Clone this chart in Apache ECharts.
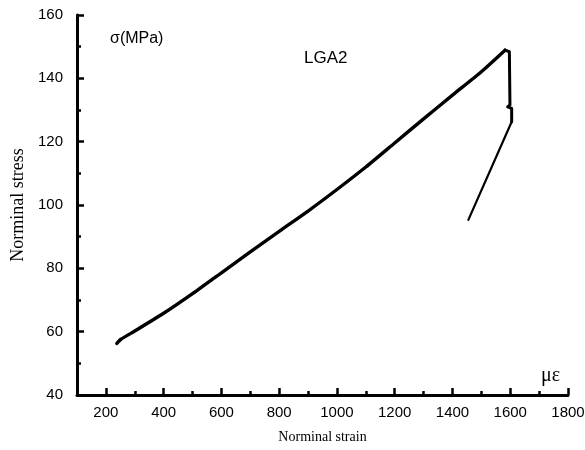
<!DOCTYPE html>
<html>
<head>
<meta charset="utf-8">
<script src="https://cdn.jsdelivr.net/npm/echarts@6/dist/echarts.min.js"></script>
<style>
  html, body { margin: 0; padding: 0; background: #fff; }
  #chart { width: 585px; height: 450px; }
</style>
</head>
<body>
<div id="chart"></div>
<script>
// Stress–strain record for specimen LGA2 (strain in µε, stress in MPa)
// Loading branch up to peak stress
const loadingStrain = [238, 252, 300, 400, 500, 600, 700, 800, 900, 1000, 1100, 1200, 1300, 1400, 1500, 1582];
const loadingStress = [56.3, 57.6, 60.2, 65.8, 72.0, 78.6, 85.2, 91.7, 98.1, 104.9, 112.0, 119.6, 127.2, 134.7, 142.1, 148.9];
// Post-peak drop
const dropStrain = [1582, 1597, 1599, 1591, 1605, 1605];
const dropStress = [148.9, 148.4, 131.6, 131.0, 130.5, 126.3];
// Unloading branch
const unloadingStrain = [1605, 1455];
const unloadingStress = [126.3, 95.3];

const majorStrainTicks = [200, 400, 600, 800, 1000, 1200, 1400, 1600, 1800];
const minorStrainTicks = [300, 500, 700, 900, 1100, 1300, 1500, 1700];

const pairs = (xs, ys) => xs.map((x, i) => [x, ys[i]]);

const chart = echarts.init(document.getElementById('chart'), null, { renderer: 'canvas' });

const sans = 'Liberation Sans, Arial, sans-serif';
const serif = 'Liberation Serif, Times New Roman, serif';
const plain = v => String(v);

chart.setOption({
  backgroundColor: '#ffffff',
  animation: false,
  grid: { left: 77, right: 17, top: 15, bottom: 55, containLabel: false, outerBoundsMode: 'none' },
  xAxis: [
    {
      type: 'value',
      min: 100,
      max: 1800,
      interval: 100,
      name: 'Norminal strain',
      nameLocation: 'middle',
      nameGap: 35,
      nameTextStyle: { fontFamily: serif, fontSize: 14, color: '#000' },
      axisLine: { show: true, onZero: false, lineStyle: { color: '#000', width: 3 } },
      axisTick: { show: true, inside: true, length: 7, customValues: majorStrainTicks, lineStyle: { color: '#000', width: 2.5 } },
      axisLabel: { show: true, margin: 10, customValues: majorStrainTicks, formatter: plain, fontFamily: sans, fontSize: 15, color: '#000' },
      splitLine: { show: false }
    },
    {
      type: 'value',
      position: 'bottom',
      min: 100,
      max: 1800,
      interval: 100,
      axisLine: { show: false },
      axisTick: { show: true, inside: true, length: 4, customValues: minorStrainTicks, lineStyle: { color: '#000', width: 2.5 } },
      axisLabel: { show: false },
      splitLine: { show: false }
    }
  ],
  yAxis: {
    type: 'value',
    min: 40,
    max: 160,
    interval: 20,
    name: 'Norminal stress',
    nameLocation: 'middle',
    nameGap: 49,
    nameTextStyle: { fontFamily: serif, fontSize: 18, color: '#000' },
    axisLine: { show: true, onZero: false, lineStyle: { color: '#000', width: 3 } },
    axisTick: { show: true, inside: true, length: 7, lineStyle: { color: '#000', width: 2.5 } },
    minorTick: { show: true, splitNumber: 2, length: 4, lineStyle: { color: '#000', width: 2.5 } },
    axisLabel: { margin: 14, formatter: plain, fontFamily: sans, fontSize: 15, color: '#000' },
    splitLine: { show: false }
  },
  graphic: [
    { type: 'text', left: 110, top: 31, style: { text: 'σ(MPa)', font: '16px ' + sans, fill: '#000' } },
    { type: 'text', left: 304, top: 50, style: { text: 'LGA2', font: '17px ' + sans, fill: '#000' } },
    { type: 'text', left: 541, top: 366, style: { text: 'με', font: '20px ' + serif, fill: '#000' } }
  ],
  series: [
    {
      type: 'line',
      data: pairs(loadingStrain, loadingStress),
      smooth: 0.2,
      showSymbol: false,
      symbol: 'none',
      lineStyle: { color: '#000', width: 3.4, join: 'round', cap: 'round' }
    },
    {
      type: 'line',
      data: pairs(dropStrain, dropStress),
      showSymbol: false,
      symbol: 'none',
      lineStyle: { color: '#000', width: 3, join: 'round', cap: 'round' }
    },
    {
      type: 'line',
      data: pairs(unloadingStrain, unloadingStress),
      showSymbol: false,
      symbol: 'none',
      lineStyle: { color: '#000', width: 2.2, cap: 'round' }
    }
  ]
});
</script>
</body>
</html>
